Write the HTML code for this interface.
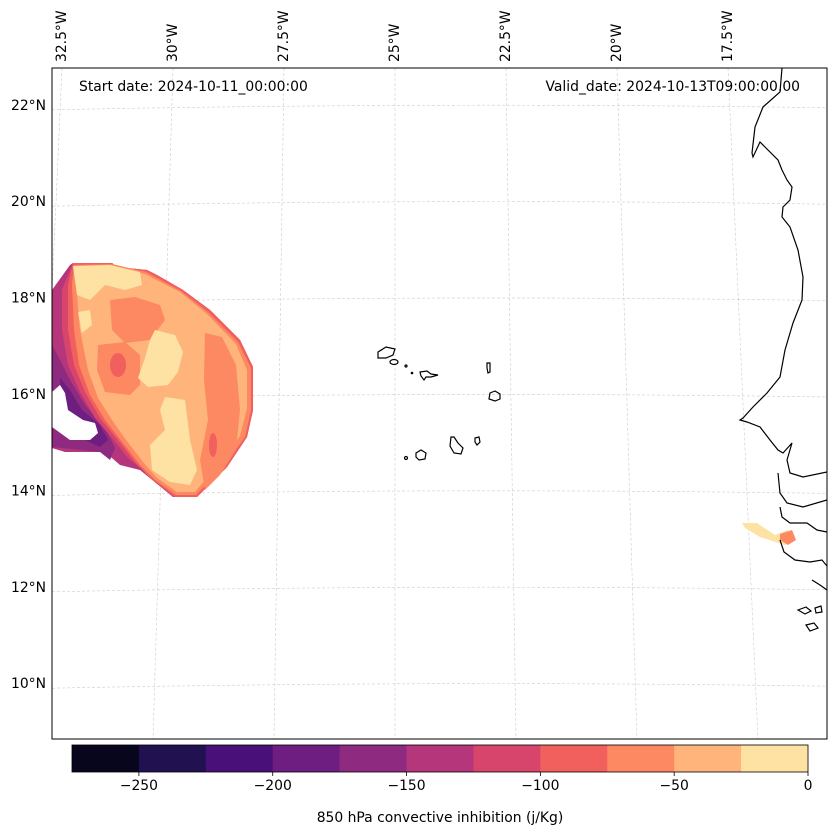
<!DOCTYPE html>
<html><head><meta charset="utf-8"><style>
body{margin:0;background:#fff;font-family:"Liberation Sans","DejaVu Sans",sans-serif}
svg{display:block}
text{font-family:"DejaVu Sans","Liberation Sans",sans-serif;font-size:13.9px;fill:#000}
</style></head><body>
<svg id="chart" width="837" height="836" viewBox="0 0 837 836">
<defs><clipPath id="mapclip"><rect x="52" y="68" width="775" height="671"/></clipPath></defs>
<rect x="0" y="0" width="837" height="836" fill="#fff"/>
<g id="grid" clip-path="url(#mapclip)"></g>
<g clip-path="url(#mapclip)">
<polygon fill="#b5367a" points="52,290 70,265 73,263 112,263 117,267 147,270 157,275 183,290 210,310 240,340 253,367 253,410 247,437 227,467 197,497 173,497 140,470 120,465 105,452 65,452 52,448"/>
<polygon fill="#8f2a81" points="52,345 60,360 70,380 85,405 105,428 115,448 110,460 100,452 52,447"/>
<polygon fill="#6e1e81" points="60,378 70,390 82,410 100,425 108,440 100,447 85,440 62,425"/>
<polygon fill="#d8456c" points="62,290 73,263 112,263 117,267 147,270 157,275 183,290 210,310 240,340 253,367 253,410 247,437 227,467 197,497 173,497 145,472 128,458 112,438 95,418 80,392 68,365 62,330"/>
<polygon fill="#f1605d" points="68,285 73,263 112,263 117,267 147,270 157,275 183,290 210,310 240,340 253,367 253,410 247,437 227,467 197,497 175,497 150,478 135,462 118,440 100,418 85,392 74,365 68,330"/>
<polygon fill="#fc8961" points="72,285 74,265 112,264 146,272 181,291 208,312 238,342 251,368 251,410 245,437 225,465 196,495 176,495 155,480 140,465 122,442 105,420 90,395 79,365 74,330"/>
<polygon fill="#feb47b" points="76,282 76,267 112,266 145,274 180,292 207,314 236,344 247,370 247,408 240,436 220,462 195,492 177,492 157,478 143,462 126,440 112,420 98,398 88,370 80,330"/>
<polygon fill="#fc8961" points="110,300 135,297 160,305 165,320 150,340 125,343 112,330"/>
<polygon fill="#fc8961" points="98,345 125,342 140,355 140,385 130,395 105,392 97,370"/>
<ellipse fill="#f1605d" cx="118" cy="365" rx="8" ry="12"/>
<polygon fill="#fc8961" points="205,333 222,337 236,365 240,410 236,450 220,475 205,490 200,460 208,420 204,380"/>
<ellipse fill="#f1605d" cx="213" cy="445" rx="4" ry="12"/>
<polygon fill="#fde2a3" points="73,266 110,265 140,272 142,285 125,290 105,285 90,300 77,295"/>
<polygon fill="#fde2a3" points="78,312 90,310 92,325 82,333"/>
<polygon fill="#fde2a3" points="155,330 175,335 183,352 178,372 168,385 148,387 138,378 145,358 150,340"/>
<polygon fill="#fde2a3" points="165,397 185,400 190,440 197,470 190,485 170,482 152,470 150,445 165,430 160,410"/>
<polygon fill="#fde2a3" points="742,523 757,523 775,535 788,530 794,540 785,545 760,537 745,528"/>
<polygon fill="#fc8961" points="780,534 792,530 796,540 788,545 780,540"/>
<polygon fill="#fff" points="52,392 60,385 65,393 68,410 83,420 95,423 98,433 90,440 70,440 52,427"/>
</g>
<g clip-path="url(#mapclip)" fill="none" stroke="#000" stroke-width="1.2">
<polyline points="782,68 780,92 763,107 755,127 752,153 753,157 760,142 765,147 778,160 782,170 787,180 792,187 790,200 783,207 782,217 790,227 798,250 803,277 802,300 793,323 785,350 780,377 767,393 753,407 743,418 740,420 747,422 760,427 770,440 778,450 783,453 792,443 787,460 790,473 803,477 827,472"/>
<polyline points="778,473 780,493 787,503 803,507 827,500"/>
<polyline points="780,507 782,517 790,523 807,523 817,530 827,532"/>
<polyline points="780,540 784,552 795,560 810,562 822,560 827,566"/>
<polyline points="812,580 820,585 827,590"/>
<path d="M798,610 l8,-3 l5,4 l-6,3z M815,608 l6,-2 l1,6 l-6,1z M806,625 l8,-2 l4,5 l-8,3z"/>
</g>
<g fill="none" stroke="#000" stroke-width="1.2">
<path d="M378,352 l8,-5 l9,2 l-2,6 l-7,3 l-8,0z"/>
<ellipse cx="394" cy="362" rx="4" ry="2.5"/>
<circle cx="406" cy="366" r="1"/>
<circle cx="412" cy="373" r="0.7"/>
<path d="M420,372 l7,-1 l4,3 l7,1 l-7,2 l-5,0 l-2,3 l-3,-4z"/>
<path d="M487,363 l3,0 l0,9 l-2,1 l-1,-5z"/>
<path d="M490,393 l5,-2 l5,3 l0,5 l-5,2 l-6,-2z"/>
<path d="M451,437 l3,0 l4,6 l5,5 l-2,6 l-7,-1 l-4,-7z"/>
<path d="M475,438 l4,-1 l1,5 l-3,3 l-2,-3z"/>
<path d="M416,453 l5,-3 l5,3 l-1,6 l-6,1 l-3,-3z"/>
<circle cx="406" cy="458" r="1.5"/>
</g>
<rect x="52" y="68" width="775" height="671" fill="none" stroke="#000" stroke-width="1"/>
<g id="lonlabels"></g>
<g id="latlabels"></g>
<text x="79" y="91">Start date: 2024-10-11_00:00:00</text>
<text x="800" y="91" text-anchor="end">Valid_date: 2024-10-13T09:00:00.00</text>
<g id="cbar"></g>
<text x="440" y="822" text-anchor="middle">850 hPa convective inhibition (j/Kg)</text>
</svg>
<script>
const lonTicks=["32.5°W","30°W","27.5°W","25°W","22.5°W","20°W","17.5°W"];
const lonValues=[-32.5,-30,-27.5,-25,-22.5,-20,-17.5];
const latTicks=["22°N","20°N","18°N","16°N","14°N","12°N","10°N"];
const latValues=[22,20,18,16,14,12,10];
const cbarLevels=[-275,-250,-225,-200,-175,-150,-125,-100,-75,-50,-25,0];
const cbarTickValues=[-250,-200,-150,-100,-50,0];
const cbarColors=["#07061c","#221150","#4a1079","#6e1e81","#8f2a81","#b5367a","#d8456c","#f1605d","#fc8961","#feb47b","#fde2a3"];
const NS="http://www.w3.org/2000/svg";
function lonX(v){return 395+(v+25)*44.4;}
function latY(v){return 394-(v-16)*48.2;}
function mk(tag,attrs,parent){const e=document.createElementNS(NS,tag);for(const k in attrs)e.setAttribute(k,attrs[k]);parent.appendChild(e);return e;}
const grid=document.getElementById('grid');
lonValues.forEach((v,i)=>{const xt=lonX(v);const xb=xt+(xt-395)*0.09;
 const l=mk('line',{x1:xt,y1:68,x2:xb,y2:739,stroke:'#ccc','stroke-width':0.6,'stroke-dasharray':'3,2'},grid);
 
 
 const g=document.getElementById('lonlabels');
 const t=mk('text',{x:0,y:0,transform:`translate(${xt+4},62) rotate(-90)`},g);
 t.textContent=lonTicks[i];
 
 
});
latValues.forEach((v,i)=>{const y=latY(v);
 const p=mk('path',{d:`M52,${y+5} Q440,${y-3} 827,${y+3}`,fill:'none',stroke:'#ccc','stroke-width':0.6,'stroke-dasharray':'3,2'},grid);
 
 
 const t=mk('text',{x:46,y:y+5,'text-anchor':'end'},document.getElementById('latlabels'));
 t.textContent=latTicks[i];
 
 
});
const cb=document.getElementById('cbar');
const cx0=72,cx1=808,cy=745,ch=27;
function cbX(v){return cx0+(v-cbarLevels[0])/(cbarLevels[cbarLevels.length-1]-cbarLevels[0])*(cx1-cx0);}
cbarColors.forEach((c,i)=>{const x=cbX(cbarLevels[i]),w=cbX(cbarLevels[i+1])-x;
 const r=mk('rect',{x:x,y:cy,width:w+0.5,height:ch,fill:c},cb);
 
 
});
const fr=mk('rect',{x:cx0,y:cy,width:cx1-cx0,height:ch,fill:'none',stroke:'#000','stroke-width':0.8},cb);


cbarTickValues.forEach(v=>{const x=cbX(v);
 const l=mk('line',{x1:x,y1:cy+ch,x2:x,y2:cy+ch+4,stroke:'#000','stroke-width':0.8},cb);
 
 
 const t=mk('text',{x:x,y:cy+ch+18,'text-anchor':'middle'},cb);
 t.textContent=(v<0?'\u2212'+Math.abs(v):String(v));
 
 
});
</script>
</body></html>
